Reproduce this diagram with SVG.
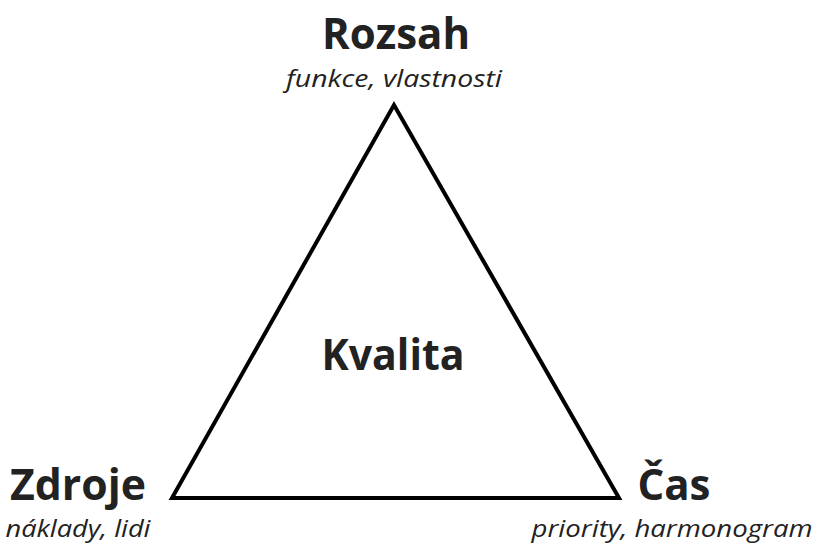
<svg xmlns="http://www.w3.org/2000/svg" width="817" height="548" viewBox="0 0 817 548">
<style>
.t{font-family:"Open Sans","Liberation Sans",sans-serif;font-weight:bold;font-size:43px;fill:#222;text-anchor:middle}
.s{font-family:"Open Sans","Liberation Sans",sans-serif;font-style:italic;font-size:24px;fill:#222;text-anchor:middle}
</style>
<rect width="817" height="548" fill="#fff"/>
<g id="connectors">
<polygon points="394,105 172,498 619,498" fill="none" stroke="#000" stroke-width="4" stroke-linejoin="miter"/>
</g>
<g id="rozsah">
<text class="t" x="396" y="49" textLength="148" lengthAdjust="spacingAndGlyphs">Rozsah</text>
<text class="s" x="394" y="87" textLength="216" lengthAdjust="spacingAndGlyphs">funkce, vlastnosti</text>
</g>
<g id="kvalita">
<text class="t" x="393" y="370" textLength="143" lengthAdjust="spacingAndGlyphs">Kvalita</text>
</g>
<g id="zdroje">
<text class="t" x="78" y="500" textLength="136" lengthAdjust="spacingAndGlyphs">Zdroje</text>
<text class="s" x="78" y="537" textLength="145" lengthAdjust="spacingAndGlyphs">náklady, lidi</text>
</g>
<g id="cas">
<text class="t" x="674" y="500" textLength="73" lengthAdjust="spacingAndGlyphs">Čas</text>
<text class="s" x="672" y="537" textLength="281" lengthAdjust="spacingAndGlyphs">priority, harmonogram</text>
</g>
</svg>
